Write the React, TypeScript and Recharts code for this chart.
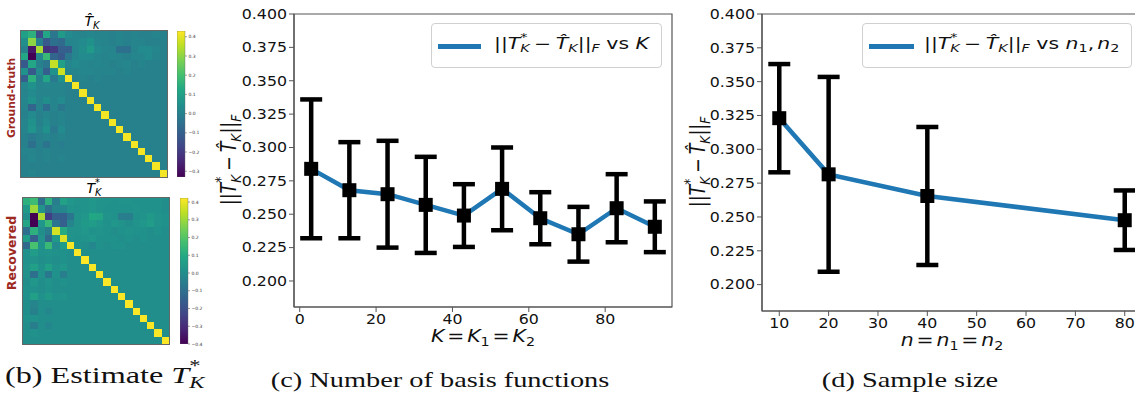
import React from "react"
import {
  Bar,
  BarChart,
  ComposedChart,
  ErrorBar,
  Legend,
  Line,
  ReferenceArea,
  Scatter,
  ScatterChart,
  XAxis,
  YAxis,
} from "recharts"

// (c) error vs number of basis functions K
const kValues = [3, 13, 23, 33, 43, 53, 63, 73, 83, 93]
const kMean = [0.284, 0.268, 0.265, 0.257, 0.249, 0.269, 0.247, 0.235, 0.2545, 0.2406]
const kErr = [0.052, 0.036, 0.04, 0.036, 0.0235, 0.031, 0.0195, 0.0205, 0.0255, 0.019]
const kTicks = [0, 20, 40, 60, 80]

// (d) error vs sample size n
const nValues = [10, 20, 40, 80]
const nMean = [0.323, 0.2815, 0.2655, 0.2476]
const nErr = [0.04, 0.072, 0.051, 0.022]
const nTicks = [10, 20, 30, 40, 50, 60, 70, 80]

const errTicks = [0.2, 0.225, 0.25, 0.275, 0.3, 0.325, 0.35, 0.375, 0.4]

// (b) ground-truth and recovered operator matrices (20 x 20)
const gtMatrix = [
  [0.1, 0.15, -0.15, 0.12, -0.03, 0.08, 0.03, 0.02, 0.01, 0.02, 0.01, 0.01, 0, 0.01, 0, 0.01, 0, 0, 0.01, 0],
  [0.04, 0.3, 0, -0.12, -0.05, -0.07, 0.01, 0.02, 0.03, 0.05, 0.02, 0.01, 0, 0.01, 0, 0.01, 0.01, 0, 0, 0],
  [0, -0.28, 0.33, -0.22, -0.2, -0.1, -0.1, 0.02, 0.04, 0.08, 0.03, 0.02, 0.01, -0.05, -0.05, 0.01, 0.03, 0.03, 0.02, 0],
  [0.12, -0.33, 0.02, 0.18, -0.08, -0.12, -0.03, 0.02, 0.03, 0.03, 0.02, 0.01, 0.02, 0.01, 0, 0.02, 0.02, 0.03, 0.01, 0],
  [-0.12, 0.12, 0, -0.03, 0.36, 0.1, 0.02, 0.03, 0.02, 0.01, 0.02, 0.01, 0, 0.01, 0.02, 0, 0.01, 0, 0, 0],
  [0.05, -0.12, 0.03, -0.1, 0.05, 0.37, 0.01, 0.01, 0.02, 0.02, 0.01, 0.01, 0.01, 0, 0.01, 0, 0, 0, 0, 0],
  [-0.1, 0.15, 0, 0.12, -0.02, 0.05, 0.42, 0, 0.01, 0, 0.01, 0, 0, 0, 0, 0, 0, 0, 0, 0],
  [0.02, 0.05, 0.01, 0.02, 0.01, 0.01, 0, 0.42, 0, 0, 0, 0, 0, 0, 0, 0, 0, 0, 0, 0],
  [0.01, 0.03, 0.01, 0.01, 0.01, 0.01, 0, 0, 0.42, 0, 0, 0, 0, 0, 0, 0, 0, 0, 0, 0],
  [0.02, 0.05, 0.01, 0.04, 0.01, 0.03, 0, 0, 0, 0.42, 0, 0, 0, 0, 0, 0, 0, 0, 0, 0],
  [0.01, -0.08, 0.01, -0.06, 0.01, -0.03, 0, 0, 0, 0, 0.42, 0, 0, 0, 0, 0, 0, 0, 0, 0],
  [0, 0.03, 0, 0.02, 0, 0.01, 0, 0, 0, 0, 0, 0.42, 0, 0, 0, 0, 0, 0, 0, 0],
  [0.01, 0.05, 0, 0.03, 0, 0.01, 0, 0, 0, 0, 0, 0, 0.42, 0, 0, 0, 0, 0, 0, 0],
  [0.01, 0.06, 0.01, 0.05, -0.02, 0.03, 0, 0, 0, 0, 0, 0, 0, 0.42, 0, 0, 0, 0, 0, 0],
  [0, -0.02, 0, 0.01, 0, 0.01, 0, 0, 0, 0, 0, 0, 0, 0, 0.42, 0, 0, 0, 0, 0],
  [0, -0.05, 0, -0.04, 0, -0.01, 0, 0, 0, 0, 0, 0, 0, 0, 0, 0.42, 0, 0, 0, 0],
  [0.01, 0.01, 0, 0.01, 0, 0, 0, 0, 0, 0, 0, 0, 0, 0, 0, 0, 0.42, 0, 0, 0],
  [0, 0.02, 0, 0.01, 0, 0.01, 0, 0, 0, 0, 0, 0, 0, 0, 0, 0, 0, 0.42, 0, 0],
  [0, 0, 0, 0, 0, 0, 0, 0, 0, 0, 0, 0, 0, 0, 0, 0, 0, 0, 0.42, 0],
  [0, 0.01, 0, 0, 0, 0, 0, 0, 0, 0, 0, 0, 0, 0, 0, 0, 0, 0, 0, 0.42],
]
const recMatrix = [
  [0.12, 0.16, -0.1, 0.12, -0.05, 0.07, 0.03, 0.02, 0.02, 0.03, 0.02, 0.02, 0.01, 0.02, 0.02, 0.01, 0.01, 0.01, 0.01, 0],
  [0.04, 0.3, 0.02, -0.1, -0.03, -0.02, 0.02, 0.01, 0.02, 0.03, 0.02, 0.01, 0.01, 0.01, 0.01, 0.02, 0.01, 0.01, 0.01, 0],
  [0, -0.4, 0.32, -0.25, -0.15, -0.15, -0.08, 0.02, 0.03, 0.09, 0.08, 0.02, 0.01, -0.05, -0.05, 0.01, 0.02, 0.04, 0.02, 0.01],
  [0.08, -0.4, 0.03, 0.15, -0.08, -0.15, -0.03, 0.02, 0.04, 0.05, 0.03, 0.01, 0.03, 0.02, 0, 0.02, 0.03, 0.05, 0.02, 0.01],
  [-0.1, 0.12, 0, -0.05, 0.37, 0.1, 0.02, 0.02, 0.03, 0.01, 0.02, 0.01, 0, 0.01, 0.02, 0.01, 0.01, 0, 0.01, 0],
  [0.05, -0.15, 0.02, -0.12, 0.04, 0.38, 0.02, 0.01, 0.02, 0.03, 0.01, 0.01, 0.01, 0, 0.01, 0, 0.01, 0, 0, 0],
  [-0.12, 0.18, 0.01, 0.15, -0.01, 0.05, 0.42, 0.01, 0, -0.02, 0.01, 0, 0.01, 0.01, 0, 0, 0, 0, 0, 0],
  [0.01, 0.05, 0.01, 0.02, 0.01, 0.01, 0, 0.42, 0, 0, 0, 0, 0, 0, 0, 0, 0, 0, 0, 0],
  [0.01, 0.02, 0, 0.01, 0, 0.01, 0, 0, 0.42, 0, 0, 0, 0, 0, 0, 0, 0, 0, 0, 0],
  [0.02, 0.06, 0.01, 0.06, 0.01, 0.03, 0, 0, 0, 0.42, 0, 0, 0, 0, 0, 0, 0, 0, 0, 0],
  [0.01, -0.1, 0.01, -0.07, 0.01, -0.05, 0, 0, 0, 0, 0.42, 0, 0, 0, 0, 0, 0, 0, 0, 0],
  [0, 0.03, 0, 0.02, 0, 0.01, 0, 0, 0, 0, 0, 0.42, 0, 0, 0, 0, 0, 0, 0, 0],
  [0.01, 0.01, 0, 0.01, 0, 0, 0, 0, 0, 0, 0, 0, 0.42, 0, 0, 0, 0, 0, 0, 0],
  [0.01, 0.06, 0.01, 0.04, 0.01, 0.02, 0, 0, 0, 0, 0, 0, 0, 0.42, 0, 0, 0, 0, 0, 0],
  [0, -0.03, 0, 0, 0, 0, 0, 0, 0, 0, 0, 0, 0, 0, 0.42, 0, 0, 0, 0, 0],
  [0, -0.04, 0, -0.02, 0, 0, 0, 0, 0, 0, 0, 0, 0, 0, 0, 0.42, 0, 0, 0, 0],
  [0.01, 0.01, 0, 0, 0, 0, 0, 0, 0, 0, 0, 0, 0, 0, 0, 0, 0.42, 0, 0, 0],
  [0, -0.05, 0, -0.02, 0, 0, 0, 0, 0, 0, 0, 0, 0, 0, 0, 0, 0, 0.42, 0, 0],
  [0, 0.01, 0, 0, 0, 0, 0, 0, 0, 0, 0, 0, 0, 0, 0, 0, 0, 0, 0.42, 0],
  [0, 0, 0, 0, 0, 0, 0, 0, 0, 0, 0, 0, 0, 0, 0, 0, 0, 0, 0, 0.42],
]
const gtTicks = [-0.3, -0.2, -0.1, 0, 0.1, 0.2, 0.3, 0.4]
const recTicks = [-0.4, -0.3, -0.2, -0.1, 0, 0.1, 0.2, 0.3, 0.4]

const SANS = '"DejaVu Sans", sans-serif'
const SERIF = '"Liberation Serif", serif'
const AXIS = "#555"
const BLUE = "#1f77b4"
const Y_MIN = 0.1805

const VIRIDIS = ["#440154", "#482475", "#414487", "#355f8d", "#2a788e", "#21918c", "#22a884", "#44bf70", "#7ad151", "#bddf26", "#fde725"]

function hexRgb(h: string) {
  return [1, 3, 5].map((i) => parseInt(h.slice(i, i + 2), 16))
}

function viridis(t: number) {
  const c = Math.min(1, Math.max(0, t)) * 10
  const i = Math.min(9, Math.floor(c))
  const f = c - i
  const a = hexRgb(VIRIDIS[i])
  const b = hexRgb(VIRIDIS[i + 1])
  const mix = a.map((v, k) => Math.round(v + (b[k] - v) * f))
  return `rgb(${mix.join(",")})`
}

const subStyle: React.CSSProperties = { display: "inline-block", fontSize: "0.7em", verticalAlign: "-0.3em", lineHeight: 1 }

// math bits: T with optional superscript / subscript stacked
function Sym({ base, sup, sub }: { base: string; sup?: string; sub?: string }) {
  return (
    <span style={{ whiteSpace: "nowrap" }}>
      <i>{base}</i>
      <span style={{ display: "inline-block", position: "relative", fontSize: "0.7em", verticalAlign: "-0.3em", lineHeight: 0.9 }}>
        <i>{sub ?? "\u00a0"}</i>
        {sup && <span style={{ position: "absolute", left: 0, top: "-1.05em", lineHeight: 0.9 }}>{sup}</span>}
      </span>
    </span>
  )
}

function NormExpr() {
  return (
    <span style={{ whiteSpace: "nowrap" }}>
      ||<Sym base="T" sup="*" sub="K" />
      <span style={{ margin: "0 0.22em" }}>−</span>
      <Sym base={"T\u0302"} sub="K" />
      ||
      <span style={subStyle}>
        <i>F</i>
      </span>
    </span>
  )
}

function Eq() {
  return <span style={{ margin: "0 0.14em" }}>=</span>
}

function Placed(props: { x: number; y: number; t?: string; style?: React.CSSProperties; children: React.ReactNode }) {
  return (
    <div
      style={{
        position: "absolute",
        left: props.x,
        top: props.y,
        transform: `translate(-50%,-50%) ${props.t ?? ""}`,
        whiteSpace: "nowrap",
        lineHeight: 1,
        ...props.style,
      }}
    >
      {props.children}
    </div>
  )
}

function StretchTick(props: any) {
  const { x, y, payload, kind } = props
  const label = kind === "y" ? Number(payload.value).toFixed(3) : String(payload.value)
  return (
    <g transform={`translate(${x},${y})`}>
      <text
        transform="scale(1.17,1)"
        textAnchor={kind === "y" ? "end" : "middle"}
        dy={kind === "y" ? "0.36em" : "0.75em"}
        fontFamily={SANS}
        fontSize={13.5}
        fill="#111"
      >
        {label}
      </text>
    </g>
  )
}

function SquareDot(p: any) {
  return <rect key={`sq-${p.index}`} x={p.cx - 7} y={p.cy - 7} width={14} height={14} fill="#000" />
}

function LegendBox({ width, lineWidth, textLeft, children }: { width: number; lineWidth: number; textLeft: number; children: React.ReactNode }) {
  return (
    <div
      style={{
        position: "relative",
        width,
        height: 45,
        boxSizing: "border-box",
        border: "1px solid #d0d0d0",
        borderRadius: 4,
        background: "rgba(255,255,255,0.8)",
      }}
    >
      <div style={{ position: "absolute", left: 6, top: 20, width: lineWidth, height: 4.5, background: BLUE }} />
      <div
        style={{
          position: "absolute",
          left: textLeft,
          top: 22,
          transform: "translateY(-50%) scaleX(1.32)",
          transformOrigin: "left center",
          fontFamily: SANS,
          fontSize: 15.5,
          lineHeight: 1,
          color: "#111",
          whiteSpace: "nowrap",
        }}
      >
        {children}
      </div>
    </div>
  )
}

function ErrorChart(props: {
  xs: number[]
  means: number[]
  errs: number[]
  xDomain: [number, number]
  xTicks: number[]
  width: number
  height: number
  yAxisWidth: number
  legend: React.ReactNode
  legendLeft: number
}) {
  const data = props.xs.map((x, i) => ({ x, mean: props.means[i], err: props.errs[i] }))
  return (
    <ComposedChart width={props.width} height={props.height} data={data} margin={{ top: 14, right: 8, bottom: 0, left: 0 }}>
      <XAxis
        type="number"
        dataKey="x"
        domain={props.xDomain}
        ticks={props.xTicks}
        interval={0}
        allowDataOverflow
        height={23}
        tickSize={5}
        tickLine={{ stroke: AXIS }}
        axisLine={{ stroke: AXIS, strokeWidth: 1.2 }}
        tick={<StretchTick kind="x" />}
      />
      <YAxis
        type="number"
        domain={[Y_MIN, 0.4]}
        ticks={errTicks}
        interval={0}
        allowDataOverflow
        width={props.yAxisWidth}
        tickSize={5}
        tickLine={{ stroke: AXIS }}
        axisLine={{ stroke: AXIS, strokeWidth: 1.2 }}
        tick={<StretchTick kind="y" />}
      />
      <ReferenceArea x1={props.xDomain[0]} x2={props.xDomain[1]} y1={Y_MIN} y2={0.4} fill="none" stroke={AXIS} strokeWidth={1.2} />
      <Legend
        layout="horizontal"
        verticalAlign="middle"
        align="center"
        content={() => props.legend}
        wrapperStyle={{ top: 23, left: props.legendLeft, width: "auto", height: "auto" }}
      />
      <Line dataKey="mean" stroke={BLUE} strokeWidth={4.5} dot={SquareDot} activeDot={false} isAnimationActive={false}>
        <ErrorBar dataKey="err" direction="y" width={11} strokeWidth={4.5} stroke="#000" isAnimationActive={false} />
      </Line>
    </ComposedChart>
  )
}

function Heatmap({ matrix, vmin, vmax, size }: { matrix: number[][]; vmin: number; vmax: number; size: number }) {
  const cells = matrix.flatMap((row, r) => row.map((v, c) => ({ r, c, v })))
  const cell = size / matrix.length
  return (
    <ScatterChart width={size} height={size} margin={{ top: 0, right: 0, bottom: 0, left: 0 }}>
      <XAxis type="number" dataKey="c" domain={[-0.5, matrix.length - 0.5]} hide />
      <YAxis type="number" dataKey="r" domain={[-0.5, matrix.length - 0.5]} reversed hide />
      <Scatter
        data={cells}
        isAnimationActive={false}
        shape={(p: any) => (
          <rect
            x={p.cx - cell / 2}
            y={p.cy - cell / 2}
            width={cell + 1}
            height={cell + 1}
            shapeRendering="crispEdges"
            fill={viridis((p.payload.v - vmin) / (vmax - vmin))}
          />
        )}
      />
    </ScatterChart>
  )
}

function Colorbar({ id, vmin, vmax, ticks, height }: { id: string; vmin: number; vmax: number; ticks: number[]; height: number }) {
  const data = [{ name: "cb", span: [vmin, vmax] }]
  const fmt = (v: number) => (v < 0 ? "\u2212" + Math.abs(v).toFixed(1) : v.toFixed(1))
  return (
    <BarChart width={34} height={height + 8} data={data} margin={{ top: 4, right: 0, bottom: 4, left: 0 }} barCategoryGap={0}>
      <defs>
        <linearGradient id={id} x1="0" y1="1" x2="0" y2="0">
          {VIRIDIS.map((c, i) => (
            <stop key={c} offset={`${i * 10}%`} stopColor={c} />
          ))}
        </linearGradient>
      </defs>
      <XAxis dataKey="name" hide />
      <YAxis
        orientation="right"
        type="number"
        width={26}
        domain={[vmin, vmax]}
        ticks={ticks}
        interval={0}
        allowDataOverflow
        tickSize={2}
        tickMargin={1.5}
        axisLine={false}
        tickLine={{ stroke: "#444", strokeWidth: 0.5 }}
        tick={{ fontSize: 4.5, fill: "#333", fontFamily: SANS }}
        tickFormatter={fmt}
      />
      <Bar dataKey="span" fill={`url(#${id})`} stroke="#666" strokeWidth={0.4} isAnimationActive={false} />
    </BarChart>
  )
}

export default function App() {
  const sideLabel: React.CSSProperties = { fontFamily: SANS, fontWeight: 700, color: "#9e2a1f" }
  const caption: React.CSSProperties = { fontFamily: SERIF, fontSize: 21, color: "#111" }
  return (
    <div
      style={{
        position: "absolute",
        left: 0,
        top: 0,
        width: 1135,
        height: 394,
        overflow: "hidden",
        background: "#fff",
        fontFamily: SANS,
      }}
    >
      {/* (b) heatmaps */}
      <div style={{ position: "absolute", left: 21, top: 31, width: 146, height: 146, overflow: "hidden", outline: "1px solid #666" }}>
        <Heatmap matrix={gtMatrix} vmin={-0.33} vmax={0.43} size={146} />
      </div>
      <div style={{ position: "absolute", left: 177, top: 27 }}>
        <Colorbar id="cbGt" vmin={-0.33} vmax={0.43} ticks={gtTicks} height={146} />
      </div>
      <div style={{ position: "absolute", left: 23, top: 198, width: 146, height: 146, overflow: "hidden", outline: "1px solid #666" }}>
        <Heatmap matrix={recMatrix} vmin={-0.4} vmax={0.423} size={146} />
      </div>
      <div style={{ position: "absolute", left: 180, top: 194 }}>
        <Colorbar id="cbRec" vmin={-0.4} vmax={0.423} ticks={recTicks} height={146} />
      </div>
      <Placed x={92} y={22} style={{ fontSize: 14 }}>
        <Sym base={"T\u0302"} sub="K" />
      </Placed>
      <Placed x={94} y={189} style={{ fontSize: 14 }}>
        <Sym base="T" sup="*" sub="K" />
      </Placed>
      <Placed x={11.5} y={98} t="rotate(-90deg)" style={{ ...sideLabel, fontSize: 10.8 }}>
        Ground-truth
      </Placed>
      <Placed x={11.5} y={253} t="rotate(-90deg)" style={{ ...sideLabel, fontSize: 12.5 }}>
        Recovered
      </Placed>

      {/* (c) error vs K */}
      <div style={{ position: "absolute", left: 220, top: 0 }}>
        <ErrorChart
          xs={kValues}
          means={kMean}
          errs={kErr}
          xDomain={[-1.5, 97.5]}
          xTicks={kTicks}
          width={460}
          height={330}
          yAxisWidth={74}
          legendLeft={211}
          legend={
            <LegendBox width={231} lineWidth={43} textLeft={62}>
              <NormExpr /> vs <i>K</i>
            </LegendBox>
          }
        />
      </div>
      <Placed x={231} y={160} t="rotate(-90deg) scaleY(1.2)" style={{ fontSize: 17.5, color: "#111" }}>
        <NormExpr />
      </Placed>
      <Placed x={483} y={338} t="scaleX(1.2)" style={{ fontSize: 17, color: "#111" }}>
        <i>K</i>
        <Eq />
        <i>K</i>
        <span style={subStyle}>1</span>
        <Eq />
        <i>K</i>
        <span style={subStyle}>2</span>
      </Placed>

      {/* (d) error vs sample size */}
      <div style={{ position: "absolute", left: 690, top: 0 }}>
        <ErrorChart
          xs={nValues}
          means={nMean}
          errs={nErr}
          xDomain={[6.5, 83.5]}
          xTicks={nTicks}
          width={460}
          height={334}
          yAxisWidth={72}
          legendLeft={172}
          legend={
            <LegendBox width={270} lineWidth={45} textLeft={61}>
              <NormExpr /> vs <i>n</i>
              <span style={subStyle}>1</span>,<span style={{ marginLeft: "0.15em" }} />
              <i>n</i>
              <span style={subStyle}>2</span>
            </LegendBox>
          }
        />
      </div>
      <Placed x={700} y={162} t="rotate(-90deg) scaleY(1.2)" style={{ fontSize: 17.5, color: "#111" }}>
        <NormExpr />
      </Placed>
      <Placed x={952} y={342} t="scaleX(1.2)" style={{ fontSize: 17, color: "#111" }}>
        <i>n</i>
        <Eq />
        <i>n</i>
        <span style={subStyle}>1</span>
        <Eq />
        <i>n</i>
        <span style={subStyle}>2</span>
      </Placed>

      {/* captions */}
      <div
        style={{
          position: "absolute",
          left: 5,
          top: 377,
          transform: "translateY(-50%) scaleX(1.4)",
          transformOrigin: "left center",
          lineHeight: 1,
          whiteSpace: "nowrap",
          ...caption,
          fontSize: 23,
        }}
      >
        (b) Estimate <Sym base="T" sup="*" sub="K" />
      </div>
      <Placed x={440} y={380} t="scaleX(1.35)" style={caption}>
        (c) Number of basis functions
      </Placed>
      <Placed x={910} y={380} t="scaleX(1.35)" style={caption}>
        (d) Sample size
      </Placed>
    </div>
  )
}
